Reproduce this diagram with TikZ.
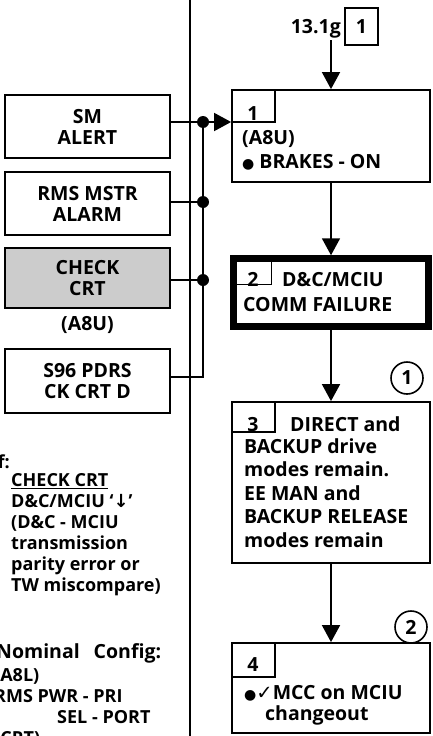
\documentclass[tikz,border=0pt]{standalone}
\usepackage{fontspec}
\setmainfont{Open Sans}
\newfontfamily\sym{DejaVu Sans}
\usetikzlibrary{arrows.meta}
\newcommand{\lfs}{\fontsize{18}{21}\selectfont\bfseries}
\newcommand{\bfs}{\fontsize{19.5}{21}\selectfont\bfseries}
\newcommand{\rfs}{\fontsize{19.5}{23.5}\selectfont\bfseries}
\newcommand{\bul}{{\sym\fontsize{14}{14}\selectfont ●}}
\begin{document}
\begin{tikzpicture}[x=1pt,y=-1pt,
  lbox/.style={draw, line width=1.8pt, minimum width=165pt, minimum height=63pt, inner sep=0pt, align=center, font=\bfs},
  rbox/.style={draw, line width=1.8pt, minimum width=198pt, inner sep=0pt},
  numbox/.style={draw, line width=1.5pt, minimum width=43pt, inner sep=0pt, anchor=north west},
  ltxt/.style={inner sep=0pt, anchor=base west, font=\lfs, align=left},
  rtxt/.style={inner sep=0pt, anchor=base west, font=\rfs, align=left},
  conn/.style={line width=1.8pt},
  arr/.style={conn, -{Triangle[width=18pt,length=17pt]}},
  jdot/.style={circle, fill, inner sep=0pt, minimum size=12pt},
  circnum/.style={circle, draw, line width=1.6pt, minimum size=32pt, inner sep=0pt, font=\rfs}]
\path[use as bounding box] (0,0) rectangle (433,736);
\clip (0,0) rectangle (433,736);
% divider
\coordinate (dtop) at (190,0);
\coordinate (dbot) at (190,736);
\draw[line width=2pt] (dtop) -- (dbot);
% left boxes
\node[lbox] (sm) at (87.5,126.5) {SM\\ALERT};
\node[lbox] (rms) at (87.5,203.5) {RMS MSTR\\ALARM};
\node[lbox, fill=gray!40, minimum height=60pt] (chk) at (87.5,278) {CHECK\\CRT};
\node[inner sep=0pt, font=\bfs] (a8u) at (87.5,325) {(A8U)};
\node[lbox, minimum height=64pt] (s96) at (87.5,381) {S96 PDRS\\CK CRT D};
% right boxes
\node[rbox, minimum height=92pt] (b1) at (331,136) {};
\node[numbox, minimum height=32pt] (n1) at (b1.north west) {};
\node[rtxt, anchor=base] (n1t) at (253,120) {1};
\node[rtxt] (b1t) at (242,168) {(A8U)\\\bul\ BRAKES - ON};
\node[draw, line width=6.5pt, minimum width=195pt, minimum height=68pt, inner sep=0pt] (b2) at (331,292.5) {};
\node[numbox, minimum width=40.5pt, minimum height=28.5pt] (n2) at (b2.north west) {};
\node[rtxt, anchor=base] (n2t) at (253,286) {2};
\node[rtxt] (b2a) at (282,286) {D\&C/MCIU};
\node[rtxt] (b2b) at (243,311) {COMM FAILURE};
\node[rbox, minimum height=161pt] (b3) at (331,482.5) {};
\node[numbox, minimum height=30pt] (n3) at (b3.north west) {};
\node[rtxt, anchor=base] (n3t) at (253,431) {3};
\node[rtxt] (b3a) at (290,431) {DIRECT and};
\node[rtxt] (b3b) at (244,547) {BACKUP drive\\modes remain.\\EE MAN and\\BACKUP RELEASE\\modes remain};
\node[rbox, minimum height=90pt] (b4) at (331,688) {};
\node[numbox, minimum height=34pt] (n4) at (b4.north west) {};
\node[rtxt, anchor=base] (n4t) at (253,671) {4};
\node[rtxt] (b4a) at (244,699) {\bul{\sym ✓}MCC on MCIU};
\node[rtxt] (b4b) at (265,720) {changeout};
% circles
\node[circnum] (c1) at (407,378) {1};
\node[circnum] (c2) at (411,627) {2};
% top reference
\node[draw, line width=1.6pt, minimum width=33pt, minimum height=37pt, inner sep=0pt, font=\rfs] (ref) at (361.5,26.5) {1};
\node[rtxt, anchor=base east] (g) at (341,33) {13.1g};
\coordinate (astart) at (331,40);
% connectors
\draw[arr] (astart) -- (b1.north);
\draw[arr] (b1.south) -- (b2.north);
\draw[arr] (b2.south) -- (b3.north);
\draw[arr] (b3.south) -- (b4.north);
\coordinate (j1) at (203,122);
\coordinate (j2) at (203,202);
\coordinate (j3) at (203,280);
\coordinate (j4) at (203,377);
\draw[conn] (sm.east |- j1) -- (j1);
\draw[arr] (j1) -- (j1 -| b1.west);
\draw[conn] (rms.east |- j2) -- (j2);
\draw[conn] (chk.east |- j3) -- (j3);
\draw[conn] (s96.east |- j4) -- (j4) -- (j1);
\node[jdot] (d1) at (j1) {};
\node[jdot] (d2) at (j2) {};
\node[jdot] (d3) at (j3) {};
% left notes
\node[ltxt, anchor=base east] (iff) at (10,468) {If:};
\node[ltxt] (cond) at (11,591.5) {\underline{CHECK CRT}\\D\&C/MCIU `{\sym ↓}'\\(D\&C - MCIU\\transmission\\parity error or\\TW miscompare)};
\node[ltxt, font=\bfs] (nom) at (-4,658) {Nominal\hspace{14pt}Config:};
\node[ltxt] (cfg) at (-6,744) {(A8L)\\RMS PWR - PRI\\\hspace*{63pt}SEL - PORT\\(CRT)};
\end{tikzpicture}
\end{document}
